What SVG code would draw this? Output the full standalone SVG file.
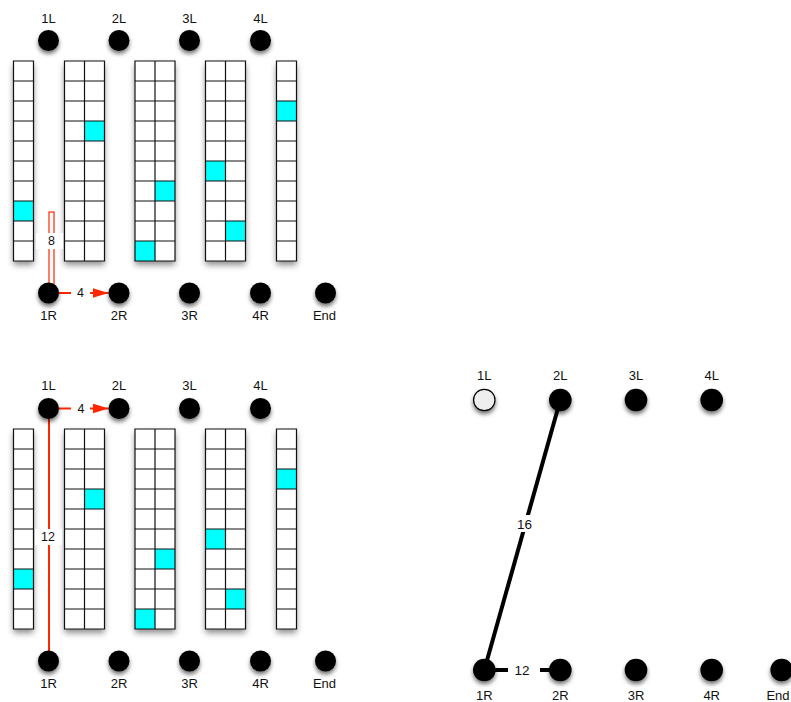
<svg xmlns="http://www.w3.org/2000/svg" xmlns:xlink="http://www.w3.org/1999/xlink" width="791" height="702" viewBox="0 0 791 702">
<style>
text{font-family:"Liberation Sans",Arial,sans-serif;font-size:13px;fill:#111;text-anchor:middle}
text.cl{font-size:12.5px}
text.bl{font-size:13.5px}
.node{fill:#000;filter:url(#nsh)}
.open{fill:#eee;stroke:#000;stroke-width:1.2}
.bg{fill:#fff;filter:url(#csh)}
.grid{fill:none;stroke:#111;stroke-width:1.2}
.cy{fill:#00ffff}
.red{stroke:#ff2600;stroke-width:2;fill:none}
.blk{stroke:#000;stroke-width:4;fill:none}
.lbl{fill:#fff}
</style>
<defs>
<filter id="nsh" x="-50%" y="-50%" width="200%" height="220%"><feDropShadow dx="0" dy="3" stdDeviation="2.2" flood-color="#000" flood-opacity="0.55"/></filter>
<filter id="csh" x="-50%" y="-10%" width="200%" height="125%"><feDropShadow dx="0" dy="4" stdDeviation="3" flood-color="#000" flood-opacity="0.45"/></filter>
<rect id="sbg" class="bg" width="20" height="200"/>
<rect id="dbg" class="bg" width="40" height="200"/>
<path id="sgrid" class="grid" d="M0,0h20v200h-20zM0,20h20M0,40h20M0,60h20M0,80h20M0,100h20M0,120h20M0,140h20M0,160h20M0,180h20"/>
<path id="dgrid" class="grid" d="M0,0h40v200h-40zM20,0v200M0,20h40M0,40h40M0,60h40M0,80h40M0,100h40M0,120h40M0,140h40M0,160h40M0,180h40"/>
<g id="cols">
<use xlink:href="#sbg" x="13.5"/>
<use xlink:href="#dbg" x="64.5"/>
<use xlink:href="#dbg" x="135"/>
<use xlink:href="#dbg" x="205.5"/>
<use xlink:href="#sbg" x="276.5"/>
<rect class="cy" x="13.5" y="140" width="20" height="20"/>
<rect class="cy" x="84.5" y="60" width="20" height="20"/>
<rect class="cy" x="155" y="120" width="20" height="20"/>
<rect class="cy" x="135" y="180" width="20" height="20"/>
<rect class="cy" x="205.5" y="100" width="20" height="20"/>
<rect class="cy" x="225.5" y="160" width="20" height="20"/>
<rect class="cy" x="276.5" y="40" width="20" height="20"/>
<use xlink:href="#sgrid" x="13.5"/>
<use xlink:href="#dgrid" x="64.5"/>
<use xlink:href="#dgrid" x="135"/>
<use xlink:href="#dgrid" x="205.5"/>
<use xlink:href="#sgrid" x="276.5"/>
</g>
<marker id="rarrow" markerUnits="userSpaceOnUse" markerWidth="16" markerHeight="10" refX="16" refY="5" orient="auto"><path d="M0,0L16,5L0,10z" fill="#ff2600"/></marker>
</defs>

<g id="columns-top" transform="translate(0,61)"><use xlink:href="#cols"/></g>
<g id="columns-bottom" transform="translate(0,429)"><use xlink:href="#cols"/></g>

<g id="connectors">
<rect x="49" y="212" width="5" height="76" fill="#fff" stroke="#ff2600" stroke-width="1.2"/>
<rect class="lbl" x="36" y="233" width="27" height="16"/>
<text class="cl" x="51.5" y="244.5">8</text>
<path class="red" d="M59,293H108.5" marker-end="url(#rarrow)"/>
<rect class="lbl" x="71" y="285" width="19" height="16"/>
<text class="cl" x="80.5" y="297">4</text>
<path class="red" d="M49,410V652"/>
<rect class="lbl" x="35" y="529" width="27" height="16"/>
<text class="cl" x="48" y="541">12</text>
<path class="red" d="M59,408.5H108.5" marker-end="url(#rarrow)"/>
<rect class="lbl" x="71" y="400" width="19" height="16"/>
<text class="cl" x="81" y="413">4</text>
<path class="blk" d="M560.3,400L484.3,670"/>
<rect class="lbl" x="513" y="515" width="22" height="17"/>
<text class="bl" x="524.5" y="529">16</text>
<path class="blk" d="M484.3,670H560.3"/>
<rect class="lbl" x="508" y="662" width="32" height="16"/>
<text class="bl" x="522" y="675">12</text>
</g>

<g id="n-t-1L"><circle class="node" cx="48.5" cy="40.5" r="10.5"/><text x="48.5" y="22.5">1L</text></g>
<g id="n-t-2L"><circle class="node" cx="119" cy="40.5" r="10.5"/><text x="119" y="22.5">2L</text></g>
<g id="n-t-3L"><circle class="node" cx="189.5" cy="40.5" r="10.5"/><text x="189.5" y="22.5">3L</text></g>
<g id="n-t-4L"><circle class="node" cx="260.5" cy="40.5" r="10.5"/><text x="260.5" y="22.5">4L</text></g>
<g id="n-t-1R"><circle class="node" cx="48.5" cy="293" r="10.5"/><text x="48.5" y="319.5">1R</text></g>
<g id="n-t-2R"><circle class="node" cx="119" cy="293" r="10.5"/><text x="119" y="319.5">2R</text></g>
<g id="n-t-3R"><circle class="node" cx="189.5" cy="293" r="10.5"/><text x="189.5" y="319.5">3R</text></g>
<g id="n-t-4R"><circle class="node" cx="260.5" cy="293" r="10.5"/><text x="260.5" y="319.5">4R</text></g>
<g id="n-t-End"><circle class="node" cx="325.5" cy="293" r="10.5"/><text x="324.5" y="319.5">End</text></g>

<g id="n-b-1L"><circle class="node" cx="48.5" cy="408.5" r="10.5"/><text x="48.5" y="390">1L</text></g>
<g id="n-b-2L"><circle class="node" cx="119" cy="408.5" r="10.5"/><text x="119" y="390">2L</text></g>
<g id="n-b-3L"><circle class="node" cx="189.5" cy="408.5" r="10.5"/><text x="189.5" y="390">3L</text></g>
<g id="n-b-4L"><circle class="node" cx="260.5" cy="408.5" r="10.5"/><text x="260.5" y="390">4L</text></g>
<g id="n-b-1R"><circle class="node" cx="48.5" cy="661" r="10.5"/><text x="48.5" y="687.5">1R</text></g>
<g id="n-b-2R"><circle class="node" cx="119" cy="661" r="10.5"/><text x="119" y="687.5">2R</text></g>
<g id="n-b-3R"><circle class="node" cx="189.5" cy="661" r="10.5"/><text x="189.5" y="687.5">3R</text></g>
<g id="n-b-4R"><circle class="node" cx="260.5" cy="661" r="10.5"/><text x="260.5" y="687.5">4R</text></g>
<g id="n-b-End"><circle class="node" cx="325.5" cy="661" r="10.5"/><text x="324.5" y="687.5">End</text></g>

<g id="n-r-1L"><circle class="open" cx="484.3" cy="400" r="10.7" filter="url(#nsh)"/><text x="484.3" y="380">1L</text></g>
<g id="n-r-2L"><circle class="node" cx="560.3" cy="400" r="11.3"/><text x="560.3" y="380">2L</text></g>
<g id="n-r-3L"><circle class="node" cx="636" cy="400" r="11.3"/><text x="636" y="380">3L</text></g>
<g id="n-r-4L"><circle class="node" cx="711.7" cy="400" r="11.3"/><text x="711.7" y="380">4L</text></g>
<g id="n-r-1R"><circle class="node" cx="484.3" cy="670" r="11.3"/><text x="484.3" y="699.5">1R</text></g>
<g id="n-r-2R"><circle class="node" cx="560.3" cy="670" r="11.3"/><text x="560.3" y="699.5">2R</text></g>
<g id="n-r-3R"><circle class="node" cx="636" cy="670" r="11.3"/><text x="636" y="699.5">3R</text></g>
<g id="n-r-4R"><circle class="node" cx="711.7" cy="670" r="11.3"/><text x="711.7" y="699.5">4R</text></g>
<g id="n-r-End"><circle class="node" cx="781.7" cy="670" r="11.3"/><text x="778" y="699.5">End</text></g>
</svg>
